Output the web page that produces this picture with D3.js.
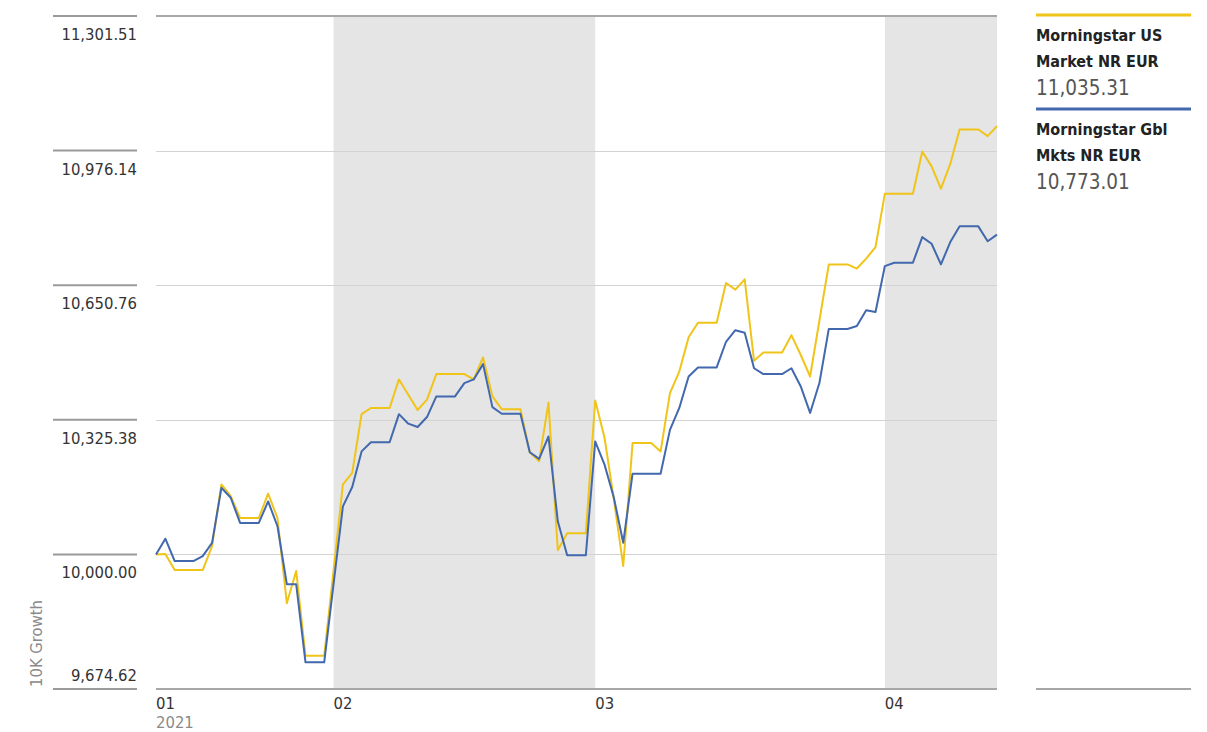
<!DOCTYPE html>
<html>
<head>
<meta charset="utf-8">
<script src="https://cdn.jsdelivr.net/npm/d3@7"></script>
<style>
  body { margin: 0; background: #fff; }
  svg text { font-family: 'DejaVu Sans Condensed', 'Liberation Sans Narrow', sans-serif; }
</style>
</head>
<body>
<svg id="chart_svg" width="1207" height="732"></svg>
<script>
// daily values, 2021-01-13 .. 2021-04-13 (weekends carry the Friday value)
const startDay = "2021-01-13";
const endDay = "2021-04-13";

const usMarket = [
  10000, 10001, 9962, 9962, 9962, 9962, 10020, 10169, 10141, 10088,
  10088, 10088, 10147, 10088, 9882, 9960, 9755, 9755, 9755, 9961,
  10169, 10197, 10339, 10354, 10354, 10354, 10423, 10386, 10349, 10374,
  10436, 10436, 10436, 10436, 10423, 10476, 10382, 10351, 10351, 10351,
  10247, 10225, 10367, 10010, 10051, 10051, 10051, 10372, 10282, 10133,
  9972, 10269, 10269, 10269, 10249, 10390, 10442, 10525, 10560, 10560,
  10560, 10656, 10640, 10665, 10468, 10488, 10488, 10488, 10530, 10482,
  10430, 10566, 10701, 10701, 10701, 10691, 10715, 10743, 10872, 10872,
  10872, 10872, 10974, 10938, 10884, 10944, 11027, 11027, 11027, 11011,
  11035.31
];

const gblMarkets = [
  10000, 10038, 9984, 9984, 9984, 9996, 10028, 10161, 10137, 10076,
  10076, 10076, 10128, 10068, 9928, 9928, 9739, 9739, 9739, 9928,
  10116, 10163, 10249, 10271, 10271, 10271, 10339, 10316, 10308, 10332,
  10382, 10382, 10382, 10414, 10423, 10460, 10356, 10340, 10340, 10340,
  10247, 10231, 10285, 10080, 9998, 9998, 9998, 10273, 10217, 10137,
  10028, 10195, 10195, 10195, 10195, 10301, 10354, 10430, 10452, 10452,
  10452, 10514, 10542, 10536, 10450, 10436, 10436, 10436, 10450, 10406,
  10342, 10415, 10545, 10545, 10545, 10552, 10590, 10586, 10697, 10705,
  10705, 10705, 10767, 10751, 10701, 10755, 10793, 10793, 10793, 10757,
  10773.01
];

const seriesNames = [["Morningstar US", "Market NR EUR"], ["Morningstar Gbl", "Mkts NR EUR"]];
const seriesColors = ["#f0c419", "#4268ad"];

const yTicks = [9674.62, 10000.00, 10325.38, 10650.76, 10976.14, 11301.51];
const monthTicks = ["2021-01-13", "2021-02-01", "2021-03-01", "2021-04-01"];
const monthLabels = ["01", "02", "03", "04"];
const shadedBands = [["2021-02-01", "2021-03-01"], ["2021-04-01", "2021-04-13"]];

const parseDay = d3.utcParse("%Y-%m-%d");
const days = d3.utcDay.range(parseDay(startDay), d3.utcDay.offset(parseDay(endDay), 1));

const svg = d3.select("#chart_svg");
const plotLeft = 156, plotRight = 997, plotTop = 16, plotBottom = 689;

const x = d3.scaleUtc()
  .domain([parseDay(startDay), parseDay(endDay)])
  .range([plotLeft, plotRight]);

const y = d3.scaleLinear()
  .domain([yTicks[0], yTicks[yTicks.length - 1]])
  .range([plotBottom, plotTop]);

const fmt = d3.format(",.2f");

// shaded months
svg.append("g").selectAll("rect")
  .data(shadedBands)
  .enter().append("rect")
  .attr("x", d => x(parseDay(d[0])))
  .attr("y", plotTop)
  .attr("width", d => x(parseDay(d[1])) - x(parseDay(d[0])))
  .attr("height", plotBottom - plotTop)
  .attr("fill", "#e5e5e5");

// horizontal grid inside the plot
svg.append("g").selectAll("line")
  .data(yTicks.slice(1, -1))
  .enter().append("line")
  .attr("x1", plotLeft).attr("x2", plotRight)
  .attr("y1", d => Math.round(y(d)) + 0.5).attr("y2", d => Math.round(y(d)) + 0.5)
  .attr("stroke", "#d2d2d2")
  .attr("stroke-width", 1);

// top and bottom frame lines
svg.append("g").selectAll("line")
  .data([yTicks[0], yTicks[yTicks.length - 1]])
  .enter().append("line")
  .attr("x1", plotLeft).attr("x2", plotRight)
  .attr("y1", d => y(d)).attr("y2", d => y(d))
  .attr("stroke", "#a8a8a8")
  .attr("stroke-width", 2);

// left tick marks and labels
const yAxis = svg.append("g");
yAxis.selectAll("line")
  .data(yTicks)
  .enter().append("line")
  .attr("x1", 53).attr("x2", 137)
  .attr("y1", d => y(d)).attr("y2", d => y(d))
  .attr("stroke", "#9a9a9a")
  .attr("stroke-width", 2);

yAxis.selectAll("text")
  .data(yTicks)
  .enter().append("text")
  .attr("x", 137)
  .attr("y", (d, i) => i === 0 ? y(d) - 8 : y(d) + 24)
  .attr("text-anchor", "end")
  .attr("fill", "#333")
  .style("font-size", "16.5px")
  .text(d => fmt(d));

svg.append("text")
  .attr("transform", "translate(42,687) rotate(-90)")
  .attr("fill", "#8a8a8a")
  .style("font-size", "16.5px")
  .text("10K Growth");

// month labels
const xAxis = svg.append("g");
xAxis.selectAll("text")
  .data(monthTicks)
  .enter().append("text")
  .attr("x", d => x(parseDay(d)))
  .attr("y", 709)
  .attr("fill", "#333")
  .style("font-size", "16.5px")
  .text((d, i) => monthLabels[i]);

xAxis.append("text")
  .attr("x", plotLeft)
  .attr("y", 728)
  .attr("fill", "#8a8a8a")
  .style("font-size", "16.5px")
  .text("2021");

// lines
const line = d3.line()
  .x((d, i) => x(days[i]))
  .y(d => y(d));

[usMarket, gblMarkets].forEach(function (values, k) {
  svg.append("path")
    .datum(values)
    .attr("d", line)
    .attr("fill", "none")
    .attr("stroke", seriesColors[k])
    .attr("stroke-width", 2)
    .attr("stroke-linejoin", "round");
});

// legend
const legend = svg.append("g").attr("transform", "translate(1036,0)");
const lastValues = [usMarket[usMarket.length - 1], gblMarkets[gblMarkets.length - 1]];
[15, 109].forEach(function (ly, k) {
  legend.append("line")
    .attr("x1", 0).attr("x2", 155)
    .attr("y1", ly).attr("y2", ly)
    .attr("stroke", seriesColors[k])
    .attr("stroke-width", 3);
  seriesNames[k].forEach(function (t, j) {
    legend.append("text")
      .attr("x", 0)
      .attr("y", ly + 26 + j * 26)
      .attr("fill", "#222")
      .style("font-size", "16px")
      .style("font-weight", "bold")
      .text(t);
  });
  legend.append("text")
    .attr("x", 0)
    .attr("y", ly + 80)
    .attr("fill", "#555")
    .style("font-size", "20.5px")
    .text(fmt(lastValues[k]));
});

legend.append("line")
  .attr("x1", 0).attr("x2", 155)
  .attr("y1", 689).attr("y2", 689)
  .attr("stroke", "#888")
  .attr("stroke-width", 1.5);
</script>
</body>
</html>
